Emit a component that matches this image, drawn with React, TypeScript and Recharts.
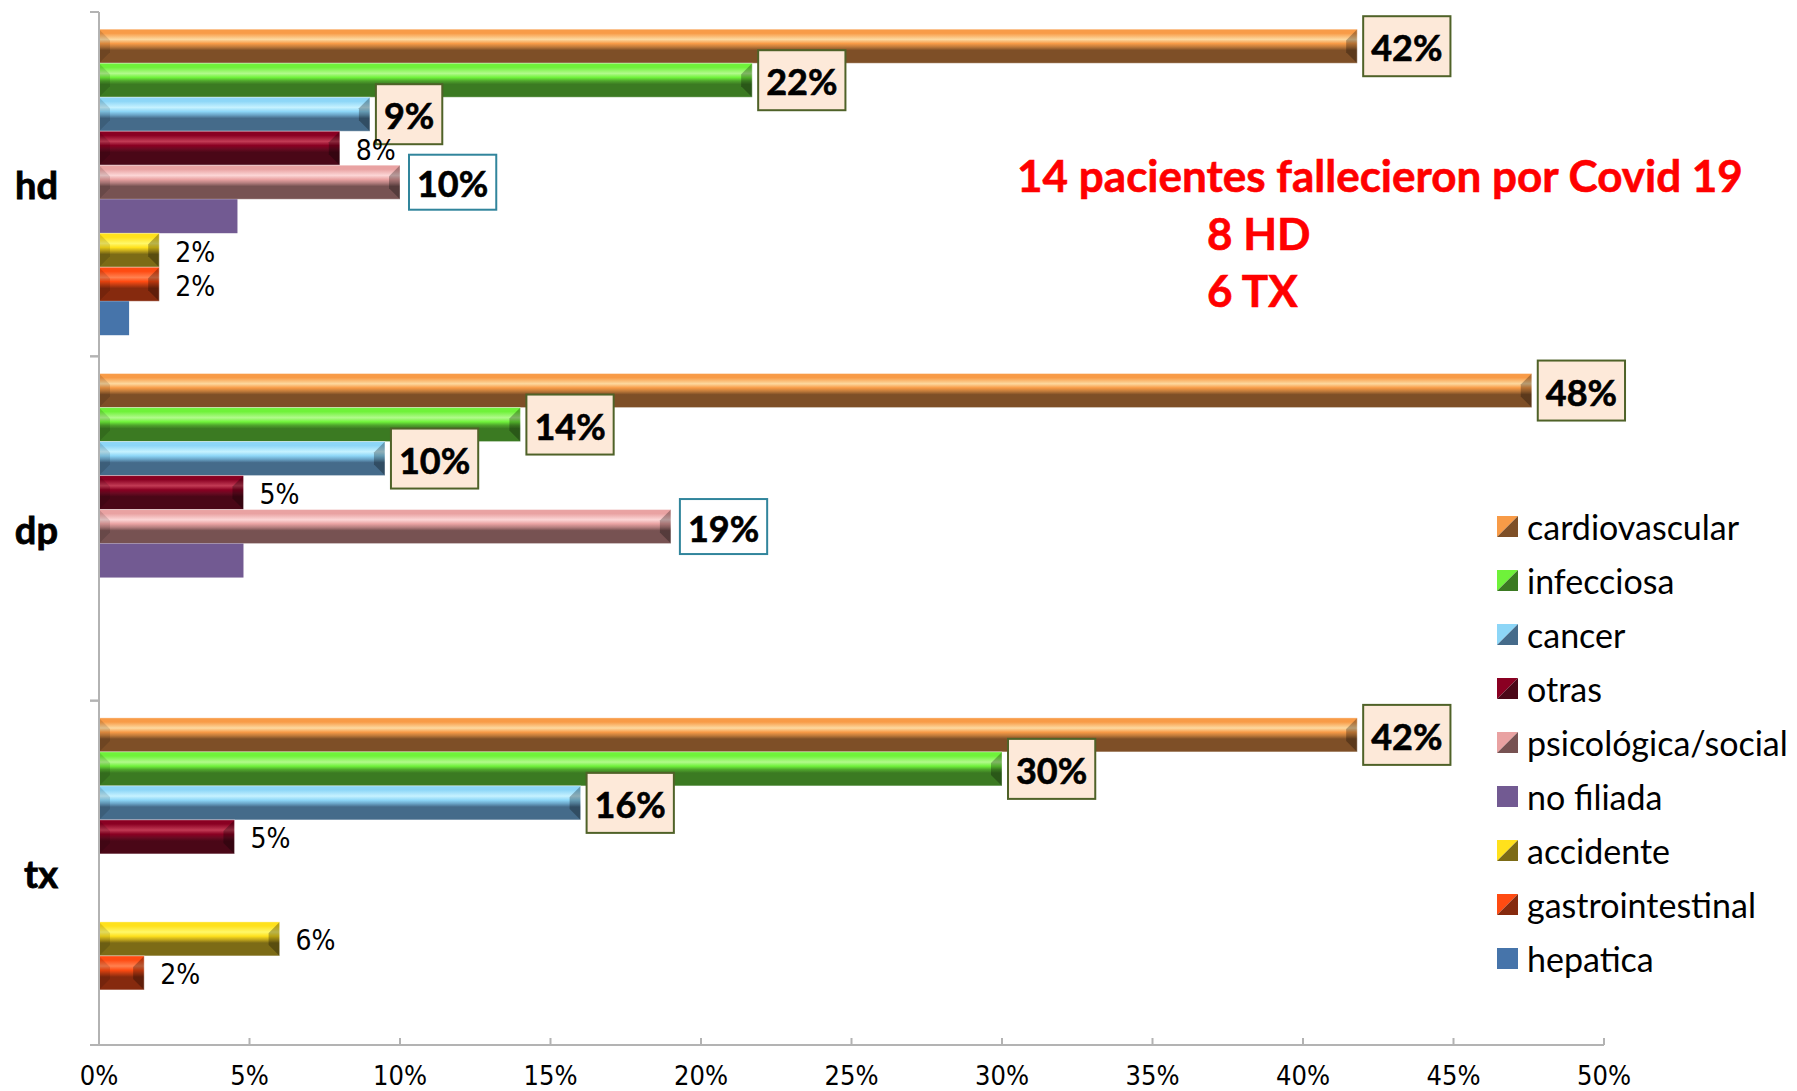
import React from "react";
import { BarChart, Bar, XAxis, YAxis, Legend, LabelList } from "recharts";

// categories (grupos de tratamiento)
const groups = ["hd", "dp", "tx"];

// % de fallecimientos por causa, en el orden de groups
const cardiovascular = [41.8, 47.6, 41.8];
const infecciosa = [21.7, 14, 30];
const cancer = [9, 9.5, 16];
const otras = [8, 4.8, 4.5];
const psicologica = [10, 19, 0];
const noFiliada = [4.6, 4.8, 0];
const accidente = [2, 0, 6];
const gastrointestinal = [2, 0, 1.5];
const hepatica = [1, 0, 0];

const xTicks = [0, 5, 10, 15, 20, 25, 30, 35, 40, 45, 50];

const notes = ["14 pacientes fallecieron por Covid 19", "8 HD", "6 TX"];

const W = 1797;
const H = 1091;
const PLOT_TOP = 12;
const PLOT_BOTTOM = 1045;
const PLOT_LEFT = 99;
const PLOT_RIGHT = 1604;

const NARROW = "'Liberation Sans Narrow', 'DejaVu Sans Condensed', 'Arial Narrow', sans-serif";
const CALIBRI = "Lato, 'Noto Sans', sans-serif";

type Pal = { top: string; hi: string; mid: string; dark: string; flat?: string };

const series: { key: string; name: string; values: number[]; pal: Pal; label: string }[] = [
  { key: "cardiovascular", name: "cardiovascular", values: cardiovascular, label: "box",
    pal: { top: "#f89b47", hi: "#fdd9a0", mid: "#c07a3a", dark: "#7e4f27" } },
  { key: "infecciosa", name: "infecciosa", values: infecciosa, label: "box",
    pal: { top: "#6ff23a", hi: "#b2fa8c", mid: "#4fa52c", dark: "#3b7a22" } },
  { key: "cancer", name: "cancer", values: cancer, label: "box",
    pal: { top: "#8dd6f7", hi: "#c6f2ff", mid: "#6ba5c8", dark: "#456b8a" } },
  { key: "otras", name: "otras", values: otras, label: "plain",
    pal: { top: "#8a0022", hi: "#c23b55", mid: "#6a0a22", dark: "#4a0717" } },
  { key: "psicologica", name: "psicológica/social", values: psicologica, label: "teal",
    pal: { top: "#e9a2a2", hi: "#fcd6d6", mid: "#b78080", dark: "#775252" } },
  { key: "noFiliada", name: "no filiada", values: noFiliada, label: "none",
    pal: { top: "#725a92", hi: "#725a92", mid: "#725a92", dark: "#725a92", flat: "#725a92" } },
  { key: "accidente", name: "accidente", values: accidente, label: "plain",
    pal: { top: "#ffe11c", hi: "#fff86a", mid: "#c3a81c", dark: "#7c6b16" } },
  { key: "gastrointestinal", name: "gastrointestinal", values: gastrointestinal, label: "plain",
    pal: { top: "#ff4b12", hi: "#ff8150", mid: "#c03c12", dark: "#862a0e" } },
  { key: "hepatica", name: "hepatica", values: hepatica, label: "none",
    pal: { top: "#4674aa", hi: "#4674aa", mid: "#4674aa", dark: "#4674aa", flat: "#4674aa" } },
];

const data = groups.map((g, i) => {
  const row: Record<string, string | number> = { group: g };
  series.forEach((s) => (row[s.key] = s.values[i]));
  return row;
});

const ctx = typeof document !== "undefined" ? document.createElement("canvas").getContext("2d") : null;
function textWidth(t: string, font: string) {
  if (!ctx) return t.length * 20;
  ctx.font = font;
  return ctx.measureText(t).width;
}

function BevelBar(props: any) {
  const { x, y, width, height, pal, id } = props;
  if (!width || width <= 0) return null;
  if (pal.flat) return <rect x={x} y={y} width={width} height={height} fill={pal.flat} />;
  const b = Math.min(11, width / 2);
  const r = x + width;
  return (
    <g>
      <rect x={x} y={y} width={width} height={height} fill={`url(#bev-${id})`} />
      <polygon
        points={`${x},${y} ${x + b},${y + b} ${x + b},${y + height - b} ${x},${y + height}`}
        fill="#000"
        fillOpacity={0.12}
      />
      <polygon
        points={`${r},${y} ${r - b},${y + b} ${r - b},${y + height - b} ${r},${y + height}`}
        fill="#000"
        fillOpacity={0.28}
      />
      <rect x={x} y={y} width={width} height={height} fill="none" stroke="#fff" strokeOpacity={0.35} />
    </g>
  );
}

const makeLabel = (kind: string) => (p: any) => {
  const { x, y, width, height, value } = p;
  if (!value || kind === "none") return null;
  const txt = `${Math.round(value)}%`;
  const cy = y + height / 2;
  const end = x + width;
  if (kind === "plain") {
    return (
      <text x={end + 16} y={cy + 2} dominantBaseline="central" fontFamily={NARROW} fontSize={28} fill="#000">
        {txt}
      </text>
    );
  }
  const teal = kind === "teal";
  const w = textWidth(txt, `bold 36px Lato`) + 16;
  const h = teal ? 55 : 60;
  const bx = end + (teal ? 9 : 6);
  return (
    <g>
      <rect x={bx} y={cy - h / 2} width={w} height={h} fill={teal ? "#ffffff" : "#fde9d9"}
        stroke={teal ? "#31859c" : "#4f6228"} strokeWidth={2} />
      <text x={bx + w / 2} y={cy + 1} textAnchor="middle" dominantBaseline="central"
        fontFamily={CALIBRI} fontWeight="bold" fontSize={36} fill="#000" stroke="#000" strokeWidth={0.6}>
        {txt}
      </text>
    </g>
  );
};

function XTick(props: any) {
  const { x, y, payload } = props;
  return (
    <g>
      <line x1={x} x2={x} y1={y} y2={y - 7} stroke="#b3b3b3" strokeWidth={2} />
      <text x={x} y={y + 30} textAnchor="middle" dominantBaseline="central" fontFamily={NARROW} fontSize={27} fill="#000">
        {`${payload.value}%`}
      </text>
    </g>
  );
}

function YTick(props: any) {
  const { x, y, payload } = props;
  const band = (PLOT_BOTTOM - PLOT_TOP) / groups.length;
  return (
    <g>
      <line x1={x - 9} x2={x} y1={y - band / 2} y2={y - band / 2} stroke="#b3b3b3" strokeWidth={2} />
      <line x1={x - 9} x2={x} y1={y + band / 2} y2={y + band / 2} stroke="#b3b3b3" strokeWidth={2} />
      <text x={x - 41} y={y} textAnchor="end" dominantBaseline="central" fontFamily={CALIBRI} fontWeight="bold"
        fontSize={38} fill="#000" stroke="#000" strokeWidth={0.8}>
        {payload.value}
      </text>
    </g>
  );
}

// legend keeps the series order (Recharts would sort it alphabetically)
function LegendBox() {
  return (
    <div>
      {series.map((s) => (
        <div key={s.key} style={{ display: "flex", alignItems: "center", height: 53.9 }}>
          <svg width={21} height={21} style={{ marginRight: 9, flex: "none" }}>
            {s.pal.flat ? (
              <rect width={21} height={21} fill={s.pal.flat} />
            ) : (
              <>
                <polygon points="0,0 21,0 0,21" fill={s.pal.top} />
                <polygon points="21,0 21,21 0,21" fill={s.pal.dark} />
              </>
            )}
          </svg>
          <span style={{ fontFamily: CALIBRI, fontSize: 34, color: "#000", whiteSpace: "nowrap" }}>{s.name}</span>
        </div>
      ))}
    </div>
  );
}

export default function App() {
  return (
    <div style={{ position: "absolute", left: 0, top: 0, width: W, height: H, background: "#fff" }}>
      <BarChart
        width={W}
        height={H}
        data={data}
        layout="vertical"
        margin={{ top: PLOT_TOP, right: W - PLOT_RIGHT, bottom: 0, left: 0 }}
        barCategoryGap="5%"
        barGap={0}
      >
        <defs>
          {series.map((s) => (
            <linearGradient key={s.key} id={`bev-${s.key}`} x1="0" y1="0" x2="0" y2="1">
              <stop offset="0" stopColor={s.pal.top} />
              <stop offset="0.12" stopColor={s.pal.top} />
              <stop offset="0.3" stopColor={s.pal.hi} />
              <stop offset="0.42" stopColor={s.pal.top} />
              <stop offset="0.52" stopColor={s.pal.mid} />
              <stop offset="0.62" stopColor={s.pal.dark} />
              <stop offset="0.85" stopColor={s.pal.dark} />
              <stop offset="1" stopColor={s.pal.dark} />
            </linearGradient>
          ))}
        </defs>
        <XAxis
          type="number"
          domain={[0, 50]}
          ticks={xTicks}
          height={H - PLOT_BOTTOM}
          axisLine={{ stroke: "#b3b3b3", strokeWidth: 2 }}
          tickLine={false}
          tickSize={0}
          tickMargin={0}
          tick={<XTick />}
          interval={0}
        />
        <YAxis
          type="category"
          dataKey="group"
          width={PLOT_LEFT}
          axisLine={{ stroke: "#b3b3b3", strokeWidth: 2 }}
          tickLine={false}
          tickSize={0}
          tickMargin={0}
          tick={<YTick />}
        />
        <Legend
          layout="vertical"
          align="center"
          verticalAlign="middle"
          content={<LegendBox />}
          wrapperStyle={{ left: 1497, top: 500, width: 300 }}
        />
        {series.map((s) => (
          <Bar
            key={s.key}
            dataKey={s.key}
            name={s.name}
            fill={s.pal.top}
            isAnimationActive={false}
            shape={(p: any) => <BevelBar {...p} pal={s.pal} id={s.key} />}
          >
            <LabelList dataKey={s.key} content={makeLabel(s.label)} />
          </Bar>
        ))}
      </BarChart>
      <svg width={W} height={H} style={{ position: "absolute", left: 0, top: 0, pointerEvents: "none" }}>
        <g fontFamily={CALIBRI} fontWeight="bold" fontSize={44} fill="#ff0000" stroke="#ff0000" strokeWidth={0.6}>
          <text x={1380} y={175} textAnchor="middle" dominantBaseline="central">
            {notes[0]}
          </text>
          <text x={1207} y={233} dominantBaseline="central">
            {notes[1]}
          </text>
          <text x={1207} y={290} dominantBaseline="central">
            {notes[2]}
          </text>
        </g>
      </svg>
    </div>
  );
}
